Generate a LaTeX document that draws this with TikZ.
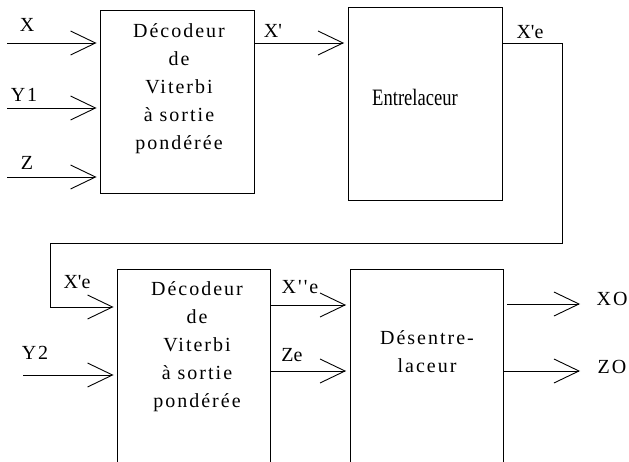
\documentclass[tikz,border=0pt]{standalone}
\usepackage{fontspec}
\usepackage{graphicx}
\setmainfont{Liberation Serif}[Ligatures=TeXOff]
\newfontfamily\spfont{Liberation Serif}[LetterSpace=10,Ligatures=TeXOff]
\usetikzlibrary{arrows.meta}
\begin{document}
\begin{tikzpicture}[x=1pt,y=-1pt,line width=0.9pt,
  blk/.style={draw,rectangle,inner sep=0pt},
  lbl/.style={inner sep=0pt,font=\fontsize{20}{28}\selectfont},
  slbl/.style={inner sep=0pt,font=\spfont\fontsize{20}{28}\selectfont},
  blktext/.style={inner sep=0pt,align=center,font=\spfont\fontsize{20}{28}\selectfont},
  flow/.style={-{Straight Barb[length=25pt,width=24pt]},shorten >=3.5pt},
  outflow/.style={-{Straight Barb[length=25pt,width=24pt]}}]
\useasboundingbox (0,0) rectangle (629,462);
\clip (0,0) rectangle (629,462);
% boxes
\node[blk,minimum width=153.5pt,minimum height=183pt] (b1) at (177.25,101.5) {};
\node[blk,minimum width=154pt,minimum height=193.7pt] (b2) at (425,103.85) {};
\node[blk,minimum width=153pt,minimum height=211pt] (b3) at (194,374.5) {};
\node[blk,minimum width=153pt,minimum height=211pt] (b4) at (426.5,374.5) {};
% box texts
\node[blktext] (t1) at (179,89) {Décodeur\\de\\Viterbi\\à sortie\\pondérée};
\node[inner sep=0pt,font=\fontsize{23.5}{28}\selectfont] (t2) at (415,97) {\scalebox{0.79}[1]{Entrelaceur}};
\node[blktext] (t3) at (197,347) {Décodeur\\de\\Viterbi\\à sortie\\pondérée};
\node[blktext] (t4) at (427,352) {Désentre-\\laceur};
% inputs of first decoder
\coordinate (xin) at (7,43);
\coordinate (yin) at (7,108);
\coordinate (zin) at (7,177);
\draw[flow] (xin) -- (xin -| b1.west);
\draw[flow] (yin) -- (yin -| b1.west);
\draw[flow] (zin) -- (zin -| b1.west);
\node[lbl] (lx) at (27,25) {X};
\node[slbl] (ly1) at (24,95) {Y1};
\node[lbl] (lz) at (27,163) {Z};
% X' to interleaver
\draw[flow] (b1.east |- xin) -- (b2.west |- xin);
\node[lbl] (lxp) at (273,31) {X'};
% feedback X'e
\coordinate (fb1) at (562,243);
\coordinate (fb2) at (50,243);
\coordinate (fb3) at (50,307);
\draw[flow] (b2.east |- xin) -| (fb1) -- (fb2) -- (fb3) -- (fb3 -| b3.west);
\node[lbl] (lxe1) at (530,32) {X'e};
\node[lbl] (lxe2) at (77,282) {X'e};
% Y2
\coordinate (y2in) at (23,375);
\draw[flow] (y2in) -- (y2in -| b3.west);
\node[slbl] (ly2) at (35,353) {Y2};
% outputs of second decoder
\coordinate (r1) at (0,305);
\coordinate (r2) at (0,371);
\draw[flow] (b3.east |- r1) -- (b4.west |- r1);
\draw[flow] (b3.east |- r2) -- (b4.west |- r2);
\node[slbl] (lxse) at (300,287) {X''e};
\node[lbl] (lze) at (292,355) {Ze};
% final outputs
\coordinate (xo) at (580,304);
\coordinate (zo) at (580,371);
\draw[outflow] ([xshift=4pt]b4.east |- xo) -- (xo);
\draw[outflow] (b4.east |- zo) -- (zo);
\node[slbl] (lxo) at (612,299) {XO};
\node[slbl] (lzo) at (612,367) {ZO};
\end{tikzpicture}
\end{document}
